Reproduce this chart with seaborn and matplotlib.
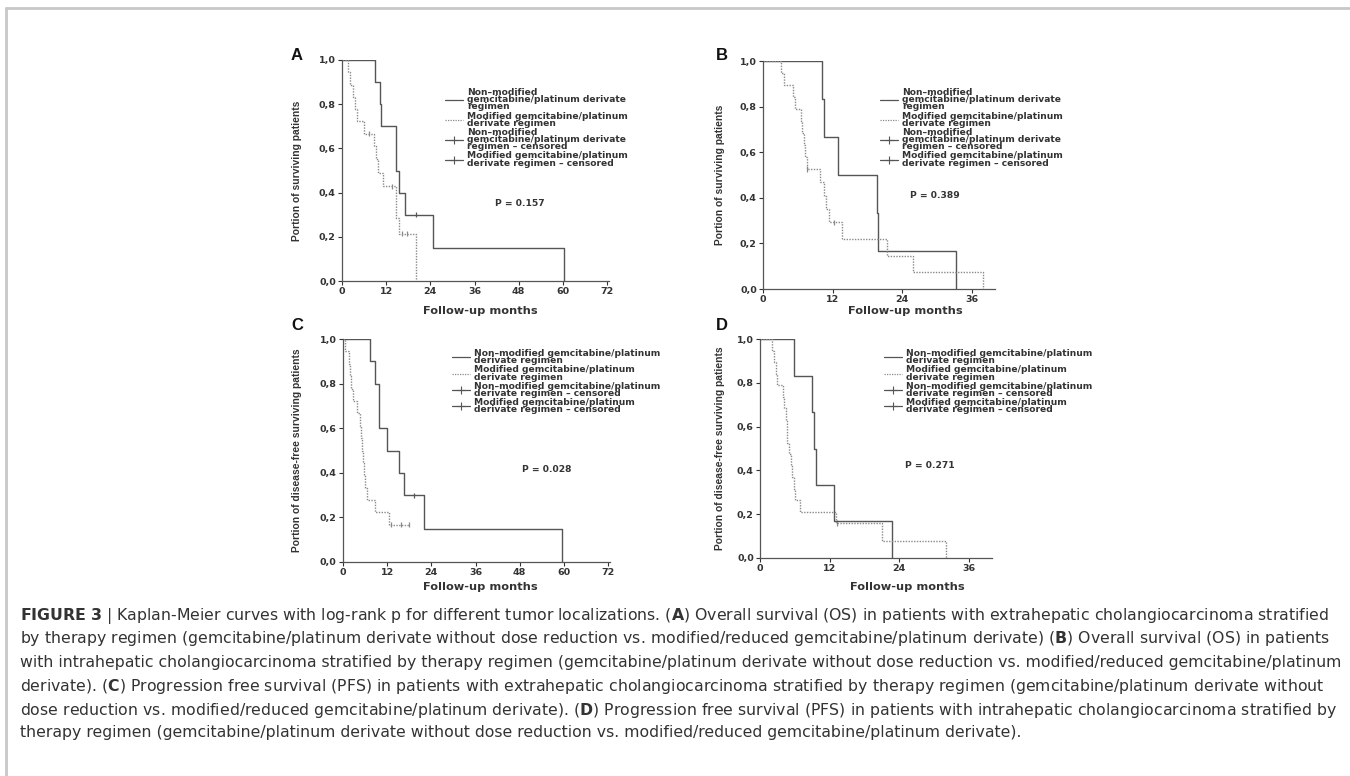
import matplotlib
matplotlib.use("Agg")
import matplotlib.pyplot as plt
from matplotlib.lines import Line2D
import seaborn as sns
import pandas as pd

sns.set_style("white")
plt.rcParams['font.family'] = ['DejaVu Sans']
plt.rcParams['mathtext.fontset'] = 'custom'
plt.rcParams['mathtext.rm'] = 'DejaVu Sans'
plt.rcParams['mathtext.bf'] = 'DejaVu Sans:bold'

# ---- data (months, survival fraction) ----
# A: OS, extrahepatic
A_non_t = [0, 8.9, 10.3, 10.6, 14.7, 15.6, 17.1, 24.8, 60.2]
A_non_s = [1.0, 0.9, 0.8, 0.7, 0.5, 0.4, 0.3, 0.15, 0.0]
A_non_cens_t = [20.2]
A_non_cens_s = [0.3]
A_mod_t = [0, 1.6, 2.3, 2.9, 3.5, 4.1, 5.9, 8.8, 9.3, 9.8, 11.2, 14.7, 15.5, 20.2]
A_mod_s = [1.0, 0.944, 0.889, 0.833, 0.778, 0.722, 0.667, 0.611, 0.55, 0.489, 0.428, 0.285, 0.214, 0.0]
A_mod_cens_t = [7.3, 13.6, 16.4, 17.7]
A_mod_cens_s = [0.667, 0.428, 0.214, 0.214]

# B: OS, intrahepatic
B_non_t = [0, 10.2, 10.5, 13.0, 19.6, 19.9, 33.3]
B_non_s = [1.0, 0.833, 0.667, 0.5, 0.333, 0.167, 0.0]
B_non_cens_t = []
B_non_cens_s = []
B_mod_t = [0, 3.05, 3.7, 5.2, 5.6, 6.5, 6.8, 7.0, 7.3, 7.5, 9.8, 10.5, 10.9, 11.3, 13.7, 21.4, 25.9, 38.0]
B_mod_s = [1.0, 0.947, 0.895, 0.842, 0.789, 0.737, 0.684, 0.632, 0.579, 0.526, 0.468, 0.409, 0.351, 0.292, 0.219, 0.146, 0.073, 0.0]
B_mod_cens_t = [7.6, 12.3]
B_mod_cens_s = [0.526, 0.292]

# C: PFS, extrahepatic
C_non_t = [0, 7.2, 8.7, 9.8, 11.9, 15.1, 16.5, 22.1, 59.4]
C_non_s = [1.0, 0.9, 0.8, 0.6, 0.5, 0.4, 0.3, 0.15, 0.0]
C_non_cens_t = [19.4]
C_non_cens_s = [0.3]
C_mod_t = [0, 0.6, 1.5, 2.0, 2.3, 2.7, 3.8, 4.6, 4.9, 5.2, 5.5, 5.8, 6.1, 6.6, 8.6, 12.5, 17.8]
C_mod_s = [1.0, 0.944, 0.889, 0.833, 0.778, 0.722, 0.667, 0.611, 0.556, 0.5, 0.444, 0.389, 0.333, 0.278, 0.222, 0.167, 0.167]
C_mod_cens_t = [13.0, 15.7, 17.8]
C_mod_cens_s = [0.167, 0.167, 0.167]

# D: PFS, intrahepatic
D_non_t = [0, 5.8, 9.0, 9.3, 9.7, 12.7, 22.7]
D_non_s = [1.0, 0.833, 0.667, 0.5, 0.333, 0.167, 0.0]
D_non_cens_t = []
D_non_cens_s = []
D_mod_t = [0, 2.0, 2.4, 2.7, 3.0, 3.9, 4.2, 4.4, 4.6, 4.7, 5.0, 5.3, 5.6, 5.9, 6.1, 6.9, 13.1, 21.1, 32.0]
D_mod_s = [1.0, 0.947, 0.895, 0.842, 0.789, 0.737, 0.684, 0.632, 0.579, 0.526, 0.474, 0.421, 0.368, 0.316, 0.263, 0.211, 0.158, 0.079, 0.0]
D_mod_cens_t = [13.2]
D_mod_cens_s = [0.158]

p_values = ["P = 0.157", "P = 0.389", "P = 0.028", "P = 0.271"]
panel_letters = ["A", "B", "C", "D"]
ylabels = ["Portion of surviving patients", "Portion of surviving patients",
           "Portion of disease-free surviving patients", "Portion of disease-free surviving patients"]
xlabel = "Follow-up months"
yticks = [0.0, 0.2, 0.4, 0.6, 0.8, 1.0]
ytick_labels = ["0,0", "0,2", "0,4", "0,6", "0,8", "1,0"]
xticks_long = [0, 12, 24, 36, 48, 60, 72]
xticks_short = [0, 12, 24, 36]

legend_AB = ["Non\u2013modified\ngemcitabine/platinum derivate\nregimen",
             "Modified gemcitabine/platinum\nderivate regimen",
             "Non\u2013modified\ngemcitabine/platinum derivate\nregimen \u2013 censored",
             "Modified gemcitabine/platinum\nderivate regimen \u2013 censored"]
legend_CD = ["Non\u2013modified gemcitabine/platinum\nderivate regimen",
             "Modified gemcitabine/platinum\nderivate regimen",
             "Non\u2013modified gemcitabine/platinum\nderivate regimen \u2013 censored",
             "Modified gemcitabine/platinum\nderivate regimen \u2013 censored"]

caption_lines = [
    r"$\bf{FIGURE\ 3}$ | Kaplan-Meier curves with log-rank p for different tumor localizations. ($\bf{A}$) Overall survival (OS) in patients with extrahepatic cholangiocarcinoma stratified",
    r"by therapy regimen (gemcitabine/platinum derivate without dose reduction vs. modified/reduced gemcitabine/platinum derivate) ($\bf{B}$) Overall survival (OS) in patients",
    r"with intrahepatic cholangiocarcinoma stratified by therapy regimen (gemcitabine/platinum derivate without dose reduction vs. modified/reduced gemcitabine/platinum",
    r"derivate). ($\bf{C}$) Progression free survival (PFS) in patients with extrahepatic cholangiocarcinoma stratified by therapy regimen (gemcitabine/platinum derivate without",
    r"dose reduction vs. modified/reduced gemcitabine/platinum derivate). ($\bf{D}$) Progression free survival (PFS) in patients with intrahepatic cholangiocarcinoma stratified by",
    r"therapy regimen (gemcitabine/platinum derivate without dose reduction vs. modified/reduced gemcitabine/platinum derivate).",
]

W, H = 1350, 776
fig = plt.figure(figsize=(W / 100, H / 100), dpi=100)
fig.patch.set_facecolor("white")

# page border (top and left)
fig.add_artist(Line2D([6 / W, 1], [1 - 8 / H, 1 - 8 / H], color="#c8c8c8", lw=2))
fig.add_artist(Line2D([6 / W, 6 / W], [0, 1 - 8 / H], color="#c8c8c8", lw=2))

col_non = "#555555"
col_mod = "#8a8a8a"

panels = [
    dict(d=(A_non_t, A_non_s, A_non_cens_t, A_non_cens_s, A_mod_t, A_mod_s, A_mod_cens_t, A_mod_cens_s),
         box=(342, 60, 281), xmax=72.5, xticks=xticks_long, leg=legend_AB, leg_xy=(445, 88),
         letter_xy=(297, 55), xl_xy=(480, 306), yl_x=302, p_xy=(520, 203)),
    dict(d=(B_non_t, B_non_s, B_non_cens_t, B_non_cens_s, B_mod_t, B_mod_s, B_mod_cens_t, B_mod_cens_s),
         box=(763, 61, 289), xmax=40, xticks=xticks_short, leg=legend_AB, leg_xy=(880, 88),
         letter_xy=(722, 55), xl_xy=(905, 306), yl_x=725, p_xy=(935, 196)),
    dict(d=(C_non_t, C_non_s, C_non_cens_t, C_non_cens_s, C_mod_t, C_mod_s, C_mod_cens_t, C_mod_cens_s),
         box=(343, 339, 562), xmax=72.5, xticks=xticks_long, leg=legend_CD, leg_xy=(452, 349),
         letter_xy=(297, 325), xl_xy=(480, 582), yl_x=302, p_xy=(547, 470)),
    dict(d=(D_non_t, D_non_s, D_non_cens_t, D_non_cens_s, D_mod_t, D_mod_s, D_mod_cens_t, D_mod_cens_s),
         box=(760, 339, 558), xmax=40, xticks=xticks_short, leg=legend_CD, leg_xy=(884, 349),
         letter_xy=(722, 325), xl_xy=(907, 582), yl_x=725, p_xy=(930, 465)),
]

px_per_month = {72.5: 265 / 72.0, 40: 5.8}

for i, pn in enumerate(panels):
    nt, ns, nct, ncs, mt, ms, mct, mcs = pn["d"]
    left, top, bottom = pn["box"]
    width = pn["xmax"] * px_per_month[pn["xmax"]]
    ax = fig.add_axes([left / W, 1 - bottom / H, width / W, (bottom - top) / H])

    df = pd.DataFrame({
        "time": nt + mt,
        "surv": ns + ms,
        "group": ["non"] * len(nt) + ["mod"] * len(mt),
    })
    sns.lineplot(data=df, x="time", y="surv", hue="group", style="group",
                 palette={"non": col_non, "mod": col_mod},
                 dashes={"non": "", "mod": (1, 1)},
                 estimator=None, sort=False, drawstyle="steps-post",
                 linewidth=1.0, legend=False, ax=ax)
    cens = pd.DataFrame({
        "time": nct + mct,
        "surv": ncs + mcs,
        "group": ["non"] * len(nct) + ["mod"] * len(mct),
    })
    if len(cens):
        sns.scatterplot(data=cens, x="time", y="surv", hue="group",
                        palette={"non": col_non, "mod": col_mod},
                        marker="|", s=14, linewidth=0.9, legend=False, ax=ax)

    ax.set_xlim(0, pn["xmax"])
    ax.set_ylim(0, 1.0)
    ax.set_xticks(pn["xticks"])
    ax.set_xticklabels([str(t) for t in pn["xticks"]], fontweight="bold")
    ax.set_yticks(yticks)
    ax.set_yticklabels(ytick_labels, fontweight="bold")
    ax.tick_params(direction="out", length=3, width=0.8, pad=1.5, labelsize=6.8,
                   colors="#333333", bottom=True, left=True)
    sns.despine(ax=ax)
    for sp in ["left", "bottom"]:
        ax.spines[sp].set_color("#555555")
        ax.spines[sp].set_linewidth(0.9)
    ax.set_facecolor("none")

    ax.set_xlabel(xlabel, fontsize=8.2, fontweight="bold", color="#333333")
    ax.xaxis.set_label_coords((pn["xl_xy"][0] - left) / width,
                              (bottom - pn["xl_xy"][1]) / (bottom - top))
    ax.set_ylabel(ylabels[i], fontsize=7.4, fontweight="bold", color="#333333",
                  family="Liberation Sans")
    ax.yaxis.set_label_coords((pn["yl_x"] - left) / width, 0.5)

    ax.text((pn["p_xy"][0] - left) / width, (bottom - pn["p_xy"][1]) / (bottom - top),
            p_values[i], transform=ax.transAxes, ha="center", va="center",
            fontsize=6.6, fontweight="bold", color="#333333")

    fig.text(pn["letter_xy"][0] / W, 1 - pn["letter_xy"][1] / H, panel_letters[i],
             ha="center", va="center", fontsize=12, fontweight="bold",
             family="Liberation Sans", color="#111111")

    handles = [
        Line2D([], [], color=col_non, lw=0.9),
        Line2D([], [], color=col_mod, lw=0.9, ls=(0, (1, 1))),
        Line2D([], [], color=col_non, lw=0.9, marker="+", markersize=6, markeredgewidth=0.8),
        Line2D([], [], color=col_non, lw=0.9, marker="+", markersize=6, markeredgewidth=0.8),
    ]
    leg = ax.legend(handles, pn["leg"], loc="upper left",
                    bbox_to_anchor=(pn["leg_xy"][0] / W, 1 - pn["leg_xy"][1] / H),
                    bbox_transform=fig.transFigure, frameon=False, fontsize=6.6,
                    handlelength=2.0, handletextpad=0.4, labelspacing=0.02,
                    borderpad=0, borderaxespad=0)
    for t in leg.get_texts():
        t.set_fontweight("bold")
        t.set_color("#333333")
        t.set_linespacing(0.74)

# caption
cap_y = [616, 639, 663, 687, 710, 733]
for line, y in zip(caption_lines, cap_y):
    fig.text(20 / W, 1 - y / H, line, ha="left", va="center", fontsize=11.35,
             color="#333333")

fig.savefig("out.png", dpi=100, facecolor="white")
